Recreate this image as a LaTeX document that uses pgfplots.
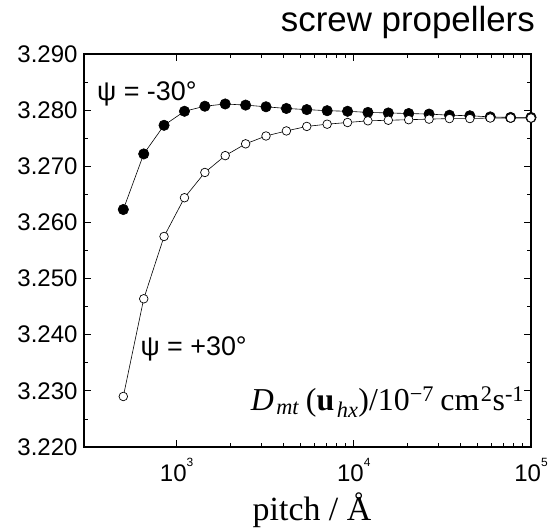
\documentclass[border=0pt]{standalone}
\usepackage{fontspec}
\setmainfont{Liberation Serif}
\setsansfont{Liberation Sans}
\usepackage{pgfplots}
\pgfplotsset{compat=1.18}
\newcommand{\pw}[1]{10\raisebox{0.6em}{\fontsize{12}{12}\selectfont #1}}
\begin{document}
\begin{tikzpicture}
\useasboundingbox (-84bp,-84bp) rectangle (468bp,447bp);
\begin{axis}[
  at={(0,0)}, anchor=south west,
  scale only axis, width=447bp, height=393bp,
  xmode=log, xmin=300, xmax=100000,
  ymin=3.220, ymax=3.290,
  ytick={3.220,3.230,3.240,3.250,3.260,3.270,3.280,3.290},
  minor ytick={3.225,3.235,3.245,3.255,3.265,3.275,3.285},
  xtick={1000,10000,100000},
  xticklabels={\pw{3},\pw{4},\pw{5}},
  tick align=inside,
  major tick length=7bp, minor tick length=4bp,
  axis line style={line width=1.5bp},
  every tick/.style={line width=0.8bp, black},
  /pgf/number format/fixed, /pgf/number format/fixed zerofill,
  /pgf/number format/precision=3, /pgf/number format/assume math mode=true,
  every tick label/.append style={font=\fontsize{24bp}{28bp}\selectfont\sffamily},
  yticklabel style={xshift=-3bp},
  xticklabel style={yshift=-8bp},
]
\addplot[black, line width=0.6bp, mark=*, mark size=5.2bp, mark options={fill=black}] coordinates {
(500,3.2623) (652,3.2722) (849,3.2773) (1107,3.2798) (1443,3.2807) (1880,3.2811)
(2451,3.2809) (3194,3.2806) (4163,3.2803) (5426,3.2801) (7071,3.2799) (9216,3.2798)
(12011,3.2796) (15655,3.2795) (20403,3.2794) (26592,3.2793) (34658,3.2791) (45171,3.2790)
(58873,3.2788) (76731,3.2787) (100000,3.2787)
};
\addplot[black, line width=0.6bp, mark=*, mark size=4.3bp, mark options={fill=white, line width=0.7bp}] coordinates {
(500,3.2290) (652,3.2464) (849,3.2575) (1107,3.2644) (1443,3.2689) (1880,3.2719)
(2451,3.2740) (3194,3.2754) (4163,3.2763) (5426,3.2771) (7071,3.2775) (9216,3.2778)
(12011,3.2781) (15655,3.2782) (20403,3.2783) (26592,3.2784) (34658,3.2785) (45171,3.2785)
(58873,3.2786) (76731,3.2786) (100000,3.2786)
};
\node[anchor=base west, font=\fontsize{27}{30}\selectfont\sffamily, inner sep=0pt] at (rel axis cs:0.029,0.881) {ψ = -30°};
\node[anchor=base west, font=\fontsize{27}{30}\selectfont\sffamily, inner sep=0pt] at (rel axis cs:0.126,0.234) {ψ = +30°};
\node[anchor=base east, font=\fontsize{32}{36}\selectfont, inner sep=0pt] at (rel axis cs:0.985,0.094)
  {\textit{D}\hspace{0.08em}\textsubscript{\textit{mt}}\hspace{0.2em}(\textbf{u}\hspace{0.08em}\textsubscript{\textit{hx}})/10\textsuperscript{−7}\hspace{0.2em}cm\hspace{0.05em}\textsuperscript{2}s\textsuperscript{-1}};
\end{axis}
\node[anchor=base east, font=\fontsize{35}{40}\selectfont\sffamily, inner sep=0pt] at (451bp,415bp) {screw propellers};
\node[anchor=base, font=\fontsize{34}{40}\selectfont, inner sep=0pt] at (228bp,-73bp) {pitch / Å};
\end{tikzpicture}
\end{document}
